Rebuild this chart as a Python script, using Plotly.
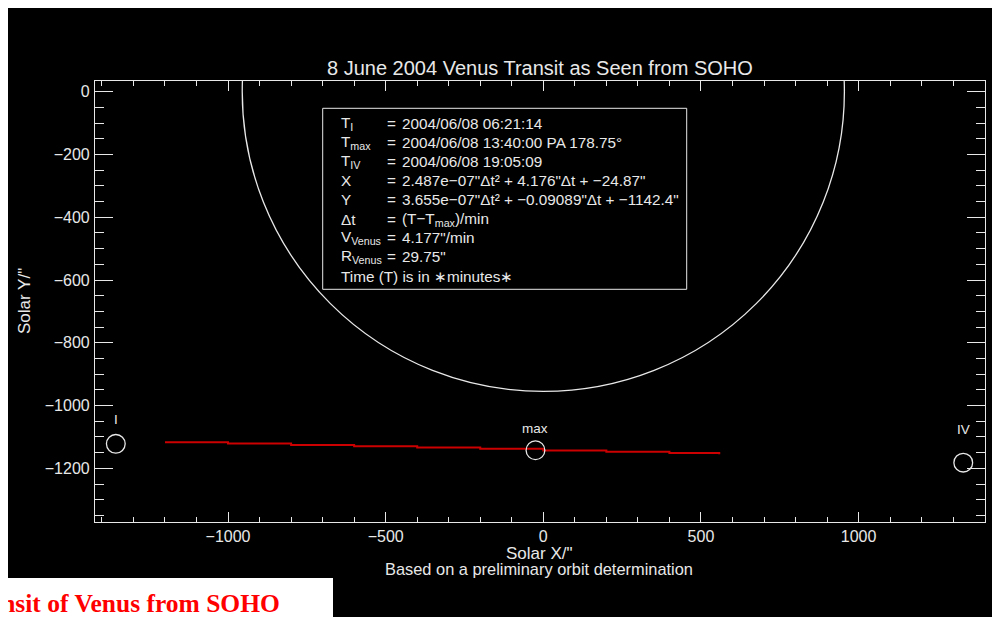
import plotly.graph_objects as go

# ---------------- data ----------------
title_text = "8 June 2004 Venus Transit as Seen from SOHO"
x_title = "Solar X/\""
y_title = "Solar Y/\""
subtitle = "Based on a preliminary orbit determination"
caption = "Transit of Venus from SOHO"

R_SUN = 955.0        # arcsec, solar disk radius as drawn
R_VENUS = 29.75      # arcsec

# red transit path (Solar X, Solar Y) in arcsec
path_x = [-1200, -1000, -800, -600, -400, -200, 0, 200, 400, 558]
path_y = [-1117, -1121, -1126, -1130, -1134, -1138, -1143, -1147, -1151, -1155]

# Venus positions marked with circles
contact_labels = ["I", "max", "IV"]
contact_x = [-1356, -24.87, 1332]
contact_y = [-1122, -1142.4, -1182]

x_ticks = [-1000, -500, 0, 500, 1000]
y_ticks = [0, -200, -400, -600, -800, -1000, -1200]

info_keys = ["T<sub>I</sub>", "T<sub>max</sub>", "T<sub>IV</sub>", "X", "Y", "Δt",
             "V<sub>Venus</sub>", "R<sub>Venus</sub>", "Time (T) is in ∗minutes∗"]
info_vals = ["2004/06/08 06:21:14",
             "2004/06/08 13:40:00 PA 178.75°",
             "2004/06/08 19:05:09",
             "2.487e−07\"Δt² + 4.176\"Δt + −24.87\"",
             "3.655e−07\"Δt² + −0.09089\"Δt + −1142.4\"",
             "(T−T<sub>max</sub>)/min",
             "4.177\"/min",
             "29.75\"",
             ""]

# ---------------- layout geometry ----------------
W, H = 992, 609
OFF = 8                      # page offset of the figure (body margin)
# plot area in page pixels
PL, PR, PT, PB = 95, 985, 81, 522
L, R, T, B = PL - OFF, W - (PR - OFF), PT - OFF, H - (PB - OFF)
PW, PH = W - L - R, H - T - B


def px(p):
    """page pixel x -> paper x"""
    return (p - OFF - L) / PW


def py(p):
    """page pixel y -> paper y"""
    return (H - B - (p - OFF)) / PH


FONT = "Liberation Sans, Arial, sans-serif"
WHITE = "#e8e8e8"

fig = go.Figure()

fig.add_trace(go.Scatter(x=path_x, y=path_y, mode="lines",
                         line=dict(color="#cc0000", width=2, shape="hv"),
                         hoverinfo="skip", showlegend=False))

shapes = []
# solar disk
shapes.append(dict(type="circle", xref="x", yref="y", x0=-R_SUN, x1=R_SUN,
                   y0=-R_SUN, y1=R_SUN, line=dict(color=WHITE, width=1.3)))
# Venus circles
for cx, cy in zip(contact_x, contact_y):
    shapes.append(dict(type="circle", xref="x", yref="y",
                       x0=cx - R_VENUS, x1=cx + R_VENUS,
                       y0=cy - R_VENUS, y1=cy + R_VENUS,
                       line=dict(color=WHITE, width=1.3)))
# info box
shapes.append(dict(type="rect", xref="paper", yref="paper",
                   x0=px(322.7), x1=px(686.7), y0=py(289.3), y1=py(108.3),
                   line=dict(color=WHITE, width=1)))
# white caption area at bottom left
shapes.append(dict(type="rect", xref="paper", yref="paper",
                   x0=px(-20), x1=px(333), y0=py(640), y1=py(578),
                   fillcolor="white", line=dict(width=0), layer="above"))

annotations = []
# title
annotations.append(dict(text=title_text, xref="paper", yref="paper",
                        x=px(540), y=py(68), xanchor="center", yanchor="middle",
                        showarrow=False, font=dict(family=FONT, size=20, color=WHITE)))
# axis titles
annotations.append(dict(text=x_title, xref="paper", yref="paper",
                        x=px(539), y=py(553), xanchor="center", yanchor="middle",
                        showarrow=False, font=dict(family=FONT, size=17, color=WHITE)))
annotations.append(dict(text=subtitle, xref="paper", yref="paper",
                        x=px(539), y=py(569), xanchor="center", yanchor="middle",
                        showarrow=False, font=dict(family=FONT, size=16.4, color=WHITE)))
annotations.append(dict(text=y_title, xref="paper", yref="paper", textangle=-90,
                        x=px(24), y=py(301), xanchor="center", yanchor="middle",
                        showarrow=False, font=dict(family=FONT, size=17, color=WHITE)))
# info text rows
row_y = [123, 142.7, 161.7, 180, 199, 219, 237.7, 257, 276.7]
IF = 15.3
for k, v, yy in zip(info_keys, info_vals, row_y):
    annotations.append(dict(text=k, xref="paper", yref="paper", x=px(339), y=py(yy),
                            xanchor="left", yanchor="middle", showarrow=False,
                            font=dict(family=FONT, size=IF, color=WHITE)))
    if v:
        annotations.append(dict(text="=", xref="paper", yref="paper", x=px(385), y=py(yy),
                                xanchor="left", yanchor="middle", showarrow=False,
                                font=dict(family=FONT, size=IF, color=WHITE)))
        annotations.append(dict(text=v, xref="paper", yref="paper", x=px(400), y=py(yy),
                                xanchor="left", yanchor="middle", showarrow=False,
                                font=dict(family=FONT, size=IF, color=WHITE)))
# contact labels
label_shift = [24, 22, 33]
for lab, cx, cy, sh in zip(contact_labels, contact_x, contact_y, label_shift):
    annotations.append(dict(text=lab, x=cx, y=cy, xref="x", yref="y", yshift=sh,
                            showarrow=False, xanchor="center", yanchor="middle",
                            font=dict(family=FONT, size=13.5, color=WHITE)))
# caption on white page
annotations.append(dict(text="<b>" + caption + "</b>", xref="paper", yref="paper",
                        x=px(281), y=py(603), xanchor="right", yanchor="middle",
                        showarrow=False, borderpad=0,
                        font=dict(family="Liberation Serif, Times New Roman, serif",
                                  size=25.5, color="#ff0000")))

axis_common = dict(showgrid=False, zeroline=False, showline=True, linecolor=WHITE,
                   linewidth=1.2, mirror="allticks", ticks="inside", tickcolor=WHITE,
                   tickwidth=1.2, tickfont=dict(family=FONT, size=16, color=WHITE))

fig.update_layout(
    width=W, height=H, autosize=False,
    margin=dict(l=L, r=R, t=T, b=B, pad=0),
    paper_bgcolor="black", plot_bgcolor="black",
    shapes=shapes, annotations=annotations, showlegend=False,
    xaxis=dict(range=[-1422, 1401], tickmode="array", tickvals=x_ticks,
               ticklen=10, ticklabelstandoff=0,
               minor=dict(dtick=100, tick0=0, ticklen=5, ticks="inside", tickcolor=WHITE,
                          tickwidth=1.2),
               **axis_common),
    yaxis=dict(range=[-1371, 34], tickmode="array", tickvals=y_ticks,
               ticklen=18, ticklabelstandoff=1,
               minor=dict(dtick=50, tick0=0, ticklen=9, ticks="inside", tickcolor=WHITE,
                          tickwidth=1.2),
               **axis_common),
)

fig.write_html("out.html")
